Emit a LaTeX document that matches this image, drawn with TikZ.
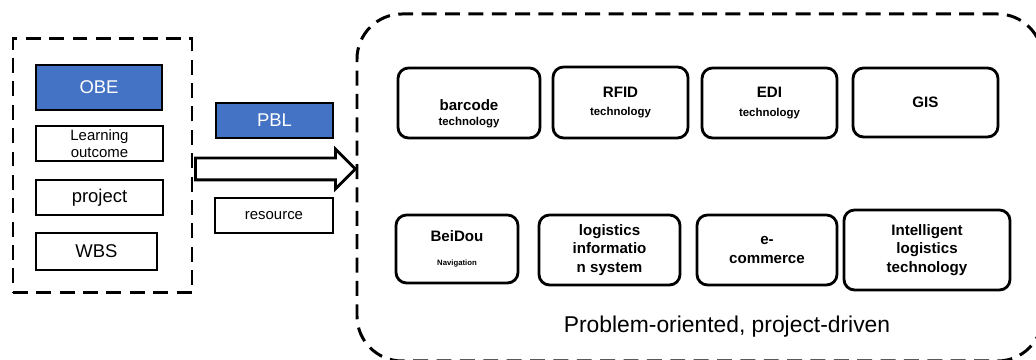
\documentclass[tikz,border=0pt]{standalone}
\usepackage{fontspec}
\setmainfont{Liberation Sans}
\usetikzlibrary{shapes.arrows}
\definecolor{myblue}{RGB}{68,114,196}

\newcommand{\techsmall}[1]{{\fontsize{6.5}{8}\selectfont #1}}

\begin{document}
\begin{tikzpicture}[
    dashframe/.style={draw, line width=1.7pt, dash pattern=on 8.5pt off 4.8pt},
    plainbox/.style={draw, line width=1.6pt, inner sep=0pt, align=center,
      font=\fontsize{10.5}{11}\selectfont},
    bluebox/.style={plainbox, fill=myblue, text=white},
    techbox/.style={draw, line width=1.6pt, rounded corners=6pt, inner sep=0pt,
      align=center, font=\fontsize{8.6}{10.5}\bfseries\selectfont}]
  \useasboundingbox (0,0) rectangle (20.72,7.2);

  % left column
  \node[dashframe, minimum width=3.58cm, minimum height=5.08cm] (left) at (2.05,3.88) {};
  \node[bluebox, minimum width=2.52cm, minimum height=0.9cm] (obe) at (1.98,5.45) {OBE};
  \node[plainbox, minimum width=2.54cm, minimum height=0.7cm,
    font=\fontsize{8.5}{9.6}\selectfont] (outcome) at (1.99,4.33) {Learning\\outcome};
  \node[plainbox, minimum width=2.54cm, minimum height=0.7cm] (project) at (1.99,3.25) {project};
  \node[plainbox, minimum width=2.42cm, minimum height=0.74cm] (wbs) at (1.93,2.17) {WBS};

  % middle
  \node[bluebox, minimum width=2.34cm, minimum height=0.7cm] (pbl) at (5.49,4.79) {PBL};
  \node[plainbox, minimum width=2.36cm, minimum height=0.7cm,
    font=\fontsize{8.5}{10}\selectfont] (resource) at (5.48,2.89) {resource};
  \node[single arrow, draw, fill=white, line width=1.6pt, inner xsep=0pt, inner ysep=0.19cm,
    minimum height=3.2cm, single arrow head extend=0.18cm,
    single arrow tip angle=90] (flow) at (5.4,3.82) {};

  % right frame
  \node[dashframe, rounded corners=0.9cm, minimum width=13.71cm, minimum height=6.94cm]
    (right) at (13.995,3.45) {};

  \node[techbox, minimum width=2.84cm, minimum height=1.4cm,
    label={[yshift=-0.22cm, align=center, font=\fontsize{8.6}{8.6}\bfseries\selectfont]center:barcode\\\techsmall{technology}}]
    (barcode) at (9.38,5.14) {};
  \node[techbox, minimum width=2.7cm, minimum height=1.42cm] (rfid) at (12.41,5.15)
    {RFID\\\techsmall{technology}};
  \node[techbox, minimum width=2.7cm, minimum height=1.4cm] (edi) at (15.39,5.14)
    {EDI\\\techsmall{technology}};
  \node[techbox, minimum width=2.9cm, minimum height=1.38cm] (gis) at (18.51,5.15) {GIS};

  \node[techbox, minimum width=2.44cm, minimum height=1.36cm] (beidou) at (9.14,2.22)
    {BeiDou\\[3pt]{\fontsize{4.4}{5}\selectfont Navigation}};
  \node[techbox, minimum width=2.82cm, minimum height=1.4cm] (lis) at (12.19,2.2)
    {logistics\\informatio\\n system};
  \node[techbox, minimum width=2.8cm, minimum height=1.4cm] (ecom) at (15.34,2.2)
    {e-\\commerce};
  \node[techbox, minimum width=3.32cm, minimum height=1.6cm] (smart) at (18.54,2.2)
    {Intelligent\\logistics\\technology};

  \node[font=\fontsize{13}{15}\selectfont] (motto) at (14.54,0.66)
    {Problem-oriented, project-driven};
\end{tikzpicture}
\end{document}
